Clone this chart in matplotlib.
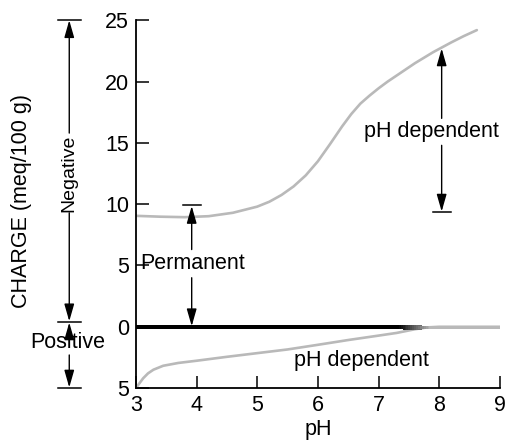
import numpy as np
import matplotlib
matplotlib.use("Agg")
import matplotlib.pyplot as plt
from matplotlib.collections import LineCollection
from matplotlib.colors import to_rgba

plt.rcParams['font.family'] = ['Liberation Sans', 'DejaVu Sans']

# Negative charge: permanent + pH dependent (upper curve)
ph_upper = [3.0, 3.4, 3.8, 4.2, 4.6, 5.0, 5.2, 5.4, 5.6, 5.8, 6.0, 6.2, 6.4,
            6.55, 6.7, 6.85, 7.0, 7.15, 7.3, 7.6, 7.9, 8.2, 8.4, 8.62]
charge_upper = [9.05, 8.98, 8.94, 9.02, 9.3, 9.8, 10.2, 10.75, 11.45, 12.35, 13.5, 14.9, 16.35,
                17.35, 18.2, 18.85, 19.45, 20.0, 20.5, 21.5, 22.4, 23.2, 23.7, 24.2]

# Positive charge, pH dependent (lower curve, drawn downward)
ph_lower = [3.0, 3.06, 3.12, 3.2, 3.29, 3.45, 3.7, 4.0, 4.5, 5.0, 5.5, 6.0,
            6.5, 7.0, 7.3, 7.6, 7.8, 8.0, 9.0]
charge_lower = [-5.0, -4.6, -4.2, -3.8, -3.5, -3.18, -2.95, -2.77, -2.45, -2.15, -1.85, -1.47,
                -1.08, -0.72, -0.5, -0.2, -0.05, 0.0, 0.0]

zero_ph = [3.0, 9.0]
zero_charge = [0.0, 0.0]

yticks = [-5, 0, 5, 10, 15, 20, 25]
ytick_labels = ['5', '0', '5', '10', '15', '20', '25']
xticks = [3, 4, 5, 6, 7, 8, 9]

GRAY = '#b9b9b9'
FS = 15.5

fig = plt.figure(figsize=(5.07, 4.41), dpi=100)
ax = fig.add_axes([0.268, 0.12, 0.718, 0.834])

ax.plot(ph_upper, charge_upper, color=GRAY, lw=1.9, solid_capstyle='round',
        solid_joinstyle='round')
ax.plot(ph_lower, charge_lower, color=GRAY, lw=1.9, solid_capstyle='round',
        solid_joinstyle='round')

# zero line: black fading into gray towards high pH
xs = np.linspace(zero_ph[0], zero_ph[1], 200)
pts = np.column_stack([xs, np.full_like(xs, zero_charge[0])])
segs = np.stack([pts[:-1], pts[1:]], axis=1)
k = np.clip((xs[:-1] - 7.35) / 0.5, 0, 1)
c0 = np.array(to_rgba('black'))
c1 = np.array(to_rgba(GRAY))
cols = c0[None, :] * (1 - k[:, None]) + c1[None, :] * k[:, None]
widths = 2.6 * (1 - k) + 1.9 * k
ax.add_collection(LineCollection(segs, colors=cols, linewidths=widths,
                                 capstyle='projecting', antialiased=False))

ax.set_xlim(3, 9)
ax.set_ylim(-5, 25)
ax.set_xticks(xticks)
ax.set_yticks(yticks)
ax.set_yticklabels(ytick_labels)
ax.tick_params(direction='in', length=9, width=1.1, labelsize=FS, pad=5)
for s in ['top', 'right']:
    ax.spines[s].set_visible(False)
for s in ['left', 'bottom']:
    ax.spines[s].set_linewidth(1.3)
ax.set_xlabel('pH', fontsize=FS, labelpad=2.5)

fig.text(22 / 507, 0.544, 'CHARGE (meq/100 g)', rotation=90, fontsize=FS,
         ha='center', va='center')

AP = dict(arrowstyle='-|>,head_length=0.7,head_width=0.2', color='black',
          lw=1.0, shrinkA=0, shrinkB=0, mutation_scale=15)


def arrow(x0, y0, x1, y1, trans):
    ax.annotate('', xy=(x1, y1), xytext=(x0, y0), xycoords=trans,
                textcoords=trans, arrowprops=AP, annotation_clip=False)


def bar(xc, y, half, trans):
    ax.plot([xc - half, xc + half], [y, y], color='black', lw=1.1,
            transform=trans, clip_on=False)


# left side: negative / positive ranges
tl = ax.get_yaxis_transform()
xl = -0.183
bar(xl, 25, 0.032, tl)
bar(xl, 0.4, 0.032, tl)
bar(xl, -5, 0.032, tl)
arrow(xl, 15.8, xl, 25, tl)
arrow(xl, 9.3, xl, 0.45, tl)
ax.text(xl, 12.5, 'Negative', rotation=90, fontsize=14, ha='center', va='center',
        transform=tl)
arrow(xl, -0.6, xl, 0.35, tl)
ax.text(-0.188, -1.3, 'Positive', fontsize=FS, ha='center', va='center', transform=tl)
arrow(xl, -2.3, xl, -4.95, tl)

# permanent charge
xp = 3.92
bar(xp, 9.9, 0.15, ax.transData)
arrow(xp, 6.3, xp, 9.85, ax.transData)
arrow(xp, 4.0, xp, 0.05, ax.transData)
ax.text(3.08, 5.2, 'Permanent', fontsize=FS, ha='left', va='center')

# pH dependent (negative)
xr = 8.04
bar(xr, 9.35, 0.15, ax.transData)
arrow(xr, 17.0, xr, 22.7, ax.transData)
arrow(xr, 14.8, xr, 9.4, ax.transData)
ax.text(7.87, 15.9, 'pH dependent', fontsize=FS, ha='center', va='center')

# pH dependent (positive)
ax.text(6.72, -2.75, 'pH dependent', fontsize=FS, ha='center', va='center')

fig.savefig('out.png', dpi=100)
